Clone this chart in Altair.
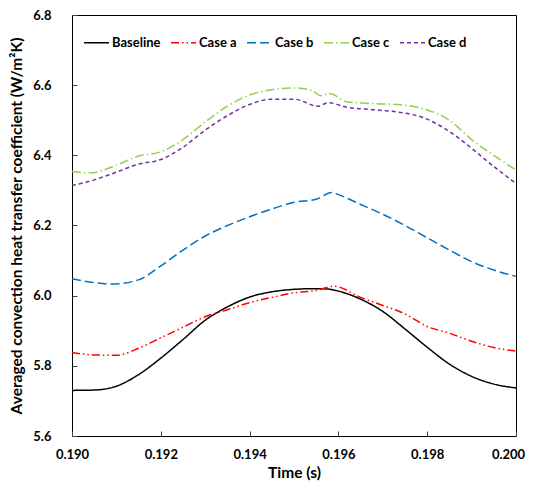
import altair as alt
import pandas as pd

series_names = ["Baseline", "Case a", "Case b", "Case c", "Case d"]
series_colors = ["#000000", "#ff0000", "#0070c0", "#92d050", "#7030a0"]
series_dashes = [[1, 0], [8, 3, 1.5, 3, 1.5, 3], [9, 4], [9, 3, 1.5, 3], [4, 3]]

t_base = [0.1900, 0.1905, 0.1910, 0.1915, 0.1920, 0.1925, 0.1930, 0.1935, 0.1940, 0.1945,
          0.1950, 0.1955, 0.19575, 0.1960, 0.1965, 0.1970, 0.1975, 0.1980, 0.1985, 0.1990,
          0.1995, 0.2000]
h_base = [5.730, 5.731, 5.742, 5.775, 5.822, 5.875, 5.930, 5.968, 5.996, 6.011,
          6.018, 6.020, 6.019, 6.013, 5.990, 5.955, 5.905, 5.853, 5.805, 5.770,
          5.748, 5.737]

t_a = [0.1900, 0.1905, 0.1910, 0.1915, 0.1920, 0.1925, 0.1930, 0.1935, 0.1940, 0.1945,
       0.1950, 0.1955, 0.1959, 0.1965, 0.1970, 0.1975, 0.1980, 0.1985, 0.1990, 0.1995,
       0.2000]
h_a = [5.838, 5.831, 5.830, 5.850, 5.880, 5.910, 5.940, 5.960, 5.980, 5.995,
       6.008, 6.015, 6.027, 5.995, 5.972, 5.948, 5.912, 5.893, 5.870, 5.852,
       5.842]

t_b = [0.1900, 0.1905, 0.1909, 0.1915, 0.1920, 0.1925, 0.1930, 0.1935, 0.1940, 0.1945,
       0.1950, 0.1955, 0.19585, 0.1960, 0.1965, 0.1970, 0.1975, 0.1980, 0.1985, 0.1990,
       0.1995, 0.2000]
h_b = [6.048, 6.037, 6.033, 6.045, 6.085, 6.130, 6.170, 6.200, 6.225, 6.247,
       6.266, 6.275, 6.294, 6.288, 6.260, 6.232, 6.200, 6.165, 6.130, 6.097,
       6.073, 6.055]

t_c = [0.1900, 0.1904, 0.1910, 0.1915, 0.1920, 0.1925, 0.1930, 0.1935, 0.1940, 0.1945,
       0.1950, 0.1954, 0.1956, 0.1958, 0.1962, 0.1967, 0.1974, 0.1979, 0.1985, 0.1990,
       0.1995, 0.2000]
h_c = [6.354, 6.350, 6.372, 6.398, 6.410, 6.445, 6.495, 6.540, 6.572, 6.587,
       6.592, 6.585, 6.570, 6.576, 6.552, 6.548, 6.544, 6.533, 6.500, 6.445,
       6.400, 6.358]

t_d = [0.1900, 0.1905, 0.1910, 0.1915, 0.1920, 0.1925, 0.1930, 0.1935, 0.1940, 0.1945,
       0.1950, 0.19555, 0.19577, 0.1962, 0.1968, 0.1974, 0.1979, 0.1985, 0.1990, 0.1995,
       0.2000]
h_d = [6.314, 6.330, 6.352, 6.375, 6.388, 6.423, 6.472, 6.513, 6.545, 6.560,
       6.560, 6.540, 6.550, 6.537, 6.530, 6.522, 6.508, 6.468, 6.420, 6.368,
       6.320]

x_ticks = [0.190, 0.192, 0.194, 0.196, 0.198, 0.200]
y_ticks = [5.6, 5.8, 6.0, 6.2, 6.4, 6.6, 6.8]

rows = []
for name, ts, hs in zip(series_names, [t_base, t_a, t_b, t_c, t_d], [h_base, h_a, h_b, h_c, h_d]):
    for t, h in zip(ts, hs):
        rows.append({"series": name, "t": t, "h": h})
df = pd.DataFrame(rows)

FONT = "Lato"

legend = alt.Legend(
    title=None, orient="none", legendX=11, legendY=14, direction="horizontal",
    columns=5, symbolType="stroke", symbolSize=625, symbolStrokeWidth=1.5,
    labelFont=FONT, labelFontSize=13, labelFontWeight="bold", labelColor="#000000",
    labelOffset=2, columnPadding=7, padding=0,
)

chart = alt.Chart(df).mark_line(strokeWidth=1.5, interpolate="monotone").encode(
    x=alt.X("t:Q",
            scale=alt.Scale(domain=[0.190, 0.200], nice=False, zero=False),
            axis=alt.Axis(values=x_ticks, format=".3f", title="Time (s)",
                          offset=-5, tickSize=5, labelPadding=12, titlePadding=4,
                          labelFlush=False, labelOverlap=False,
                          labelOffset={"condition": {"test": "datum.value >= 0.1999", "value": -8}, "value": 0})),
    y=alt.Y("h:Q",
            scale=alt.Scale(domain=[5.6, 6.8], nice=False, zero=False),
            axis=alt.Axis(values=y_ticks, format=".1f",
                          title="Averaged convection heat transfer coefficient (W/m²K)",
                          offset=-5, tickSize=5, labelPadding=21, titlePadding=8,
                          labelFlush=False, labelOverlap=False)),
    color=alt.Color("series:N", scale=alt.Scale(domain=series_names, range=series_colors), legend=legend),
    strokeDash=alt.StrokeDash("series:N", scale=alt.Scale(domain=series_names, range=series_dashes), legend=legend),
).properties(
    width=444, height=421,
    autosize=alt.AutoSizeParams(type="none"),
    padding={"left": 64, "top": 7, "right": 9, "bottom": 46},
).configure_view(
    stroke="#000000", strokeWidth=1
).configure_axis(
    domain=False, grid=False, tickColor="#444444", tickWidth=1,
    labelFont=FONT, labelFontSize=13, labelFontWeight="bold", labelColor="#000000",
    titleFont=FONT, titleFontSize=15.5, titleFontWeight="bold", titleColor="#000000",
)

chart.save("out.html", embed_options={"renderer": "svg", "actions": False})
